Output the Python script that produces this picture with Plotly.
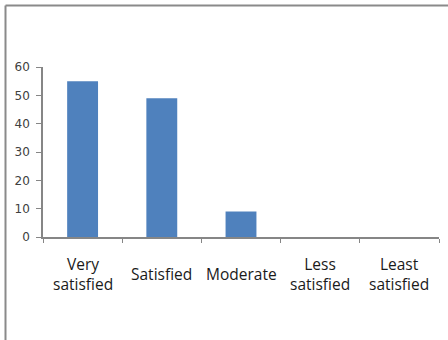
import plotly.graph_objects as go

categories = ["Very satisfied", "Satisfied", "Moderate", "Less satisfied", "Least satisfied"]
label_lines = ["Very<br>satisfied", "Satisfied", "Moderate", "Less<br>satisfied", "Least<br>satisfied"]
values = [55, 49, 9, 0, 0]
y_ticks = [0, 10, 20, 30, 40, 50, 60]

W, H = 448, 340
L, R, T, B = 43, 9, 67, 103
pw, ph = W - L - R, H - T - B

axis_col = "#868686"

fig = go.Figure(go.Bar(x=categories, y=values, marker_color="#4F81BD",
                       marker_line_width=0, width=0.39))

# category labels, vertically centred under each slot
for cat, txt in zip(categories, label_lines):
    fig.add_annotation(x=cat, y=-(274 - 237) / ph, xref="x", yref="paper",
                       text=txt, showarrow=False, yanchor="middle",
                       font=dict(family="Open Sans", size=15.5, color="#1a1a1a"))

# outer frame (left and top edges)
def px(x):
    return (x - L) / pw

def py(y):
    return 1 - (y - T) / ph

frame = dict(color="#8a8a8a", width=2)
fig.add_shape(type="line", xref="paper", yref="paper",
              x0=px(5.5), x1=px(W + 2), y0=py(5.5), y1=py(5.5), line=frame)
fig.add_shape(type="line", xref="paper", yref="paper",
              x0=px(5.5), x1=px(5.5), y0=py(5.5), y1=py(H + 2), line=frame)

fig.update_layout(
    width=W, height=H,
    margin=dict(l=L, r=R, t=T, b=B),
    paper_bgcolor="white", plot_bgcolor="white",
    showlegend=False,
    bargap=0.61,
    xaxis=dict(showgrid=False, showline=True, linecolor=axis_col, linewidth=1.5,
               ticks="outside", tickson="boundaries", ticklen=4, tickcolor=axis_col,
               showticklabels=False, fixedrange=True),
    yaxis=dict(range=[0, 60], tickvals=y_ticks, showgrid=False, showline=True,
               linecolor=axis_col, linewidth=1.5, ticks="outside", ticklen=5,
               tickcolor=axis_col, zeroline=False, ticklabelstandoff=4,
               tickfont=dict(family="DejaVu Sans", size=12, color="#404040"),
               fixedrange=True),
)

fig.write_html("out.html")
